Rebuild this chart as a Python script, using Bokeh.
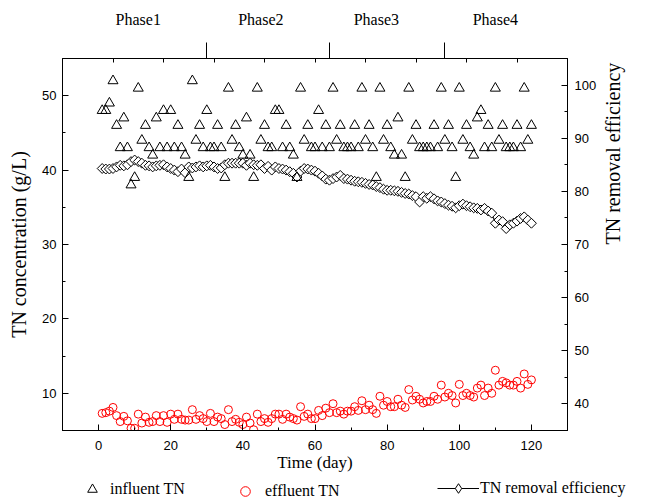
import math
from bokeh.plotting import figure
from bokeh.models import (Range1d, LinearAxis, SingleIntervalTicker, FixedTicker,
                          Legend, LegendItem)
from bokeh.embed import file_html
from bokeh.resources import INLINE

days = list(range(1, 121))

influent_tn = [48, 48, 49, 52, 46, 43, 47, 43, 38, 39,
               51, 44, 46, 43, 42, 47, 43, 48, 43, 48,
               43, 46, 43, 42, 39, 52, 44, 46, 43, 48,
               43, 43, 46, 43, 39, 51, 44, 46, 43, 42,
               47, 42, 39, 51, 44, 46, 43, 43, 48, 48,
               43, 46, 43, 42, 39, 51, 44, 46, 43, 43,
               48, 43, 46, 43, 51, 44, 46, 43, 43, 43,
               46, 43, 51, 44, 46, 43, 39, 51, 44, 46,
               43, 42, 47, 42, 39, 51, 44, 46, 43, 43,
               43, 43, 46, 43, 51, 44, 46, 43, 39, 51,
               44, 46, 43, 42, 47, 48, 43, 46, 43, 51,
               44, 46, 43, 43, 43, 46, 43, 51, 44, 46]

effluent_tn = [7.3, 7.4, 7.6, 8.1, 7.0, 6.2, 6.9, 6.3, 5.3, 5.3,
               7.2, 6.0, 6.8, 6.1, 6.2, 7.0, 6.2, 7.0, 6.1, 7.2,
               6.5, 7.2, 6.5, 6.4, 6.4, 7.8, 6.5, 7.0, 6.6, 6.2,
               7.3, 6.2, 6.8, 6.6, 5.8, 7.8, 6.2, 6.5, 6.1, 5.8,
               6.8, 6.0, 5.1, 7.2, 6.2, 6.6, 6.1, 6.6, 7.2, 7.2,
               6.5, 7.2, 6.8, 6.6, 6.4, 8.2, 6.9, 7.2, 6.6, 6.6,
               7.7, 7.0, 8.0, 7.4, 8.6, 7.4, 7.6, 7.2, 7.6, 7.6,
               8.2, 7.7, 9.0, 7.8, 8.4, 7.8, 7.3, 9.6, 8.4, 8.9,
               8.2, 8.2, 9.2, 8.4, 8.1, 10.5, 9.1, 9.6, 9.2, 8.7,
               8.9, 8.9, 9.6, 9.2, 11.1, 9.5, 10.0, 9.7, 8.7, 11.2,
               9.7, 10.0, 9.7, 9.5, 10.7, 11.1, 9.7, 10.7, 10.0, 13.1,
               11.1, 11.6, 11.4, 11.1, 11.1, 11.6, 10.7, 12.6, 11.2, 11.8]

removal_eff = [84.3, 84.2, 84.2, 84.3, 84.6, 84.9, 84.8, 85.0, 85.6, 85.9,
               85.6, 85.3, 84.9, 84.8, 84.6, 84.8, 84.9, 85.0, 84.6, 84.3,
               84.0, 83.7, 84.2, 83.5, 84.6, 84.4, 84.6, 84.8, 84.6, 84.8,
               84.9, 84.6, 84.3, 84.4, 85.0, 85.3, 85.3, 85.3, 85.3, 85.3,
               84.9, 85.3, 85.0, 84.9, 85.0, 84.3, 84.7, 84.0, 84.6, 84.3,
               84.2, 84.0, 83.7, 83.4, 82.7, 83.8, 84.3, 84.2, 84.0, 83.8,
               83.4, 82.9, 82.3, 82.1, 82.4, 82.7, 83.0, 82.4, 82.3, 82.1,
               81.9, 81.8, 81.7, 81.5, 81.3, 81.2, 80.9, 80.7, 80.4, 80.2,
               80.2, 80.1, 80.0, 79.8, 79.6, 79.5, 79.2, 79.0, 78.0, 79.0,
               78.7, 79.0, 78.6, 78.2, 78.0, 77.7, 77.4, 77.2, 76.9, 77.3,
               77.6, 77.3, 77.1, 76.9, 76.8, 76.5, 76.8, 76.3, 75.9, 74.0,
               74.6, 74.3, 73.0, 73.7, 74.0, 74.4, 74.9, 75.2, 74.6, 74.0]

phase_bounds = [30, 64, 96]
phase_label_days = [11, 45, 77, 110]
phase_labels = ["Phase1", "Phase2", "Phase3", "Phase4"]
top_minor_ticks = [4, 18, 32, 46, 60, 74, 88, 102, 116]

SERIF = "Liberation Serif"
SANS = "Liberation Sans"
W = 640

p = figure(width=W, height=478, output_backend="svg", toolbar_location=None,
           x_range=Range1d(-10, 130), y_range=Range1d(5, 55),
           min_border_left=62, min_border_right=73, min_border_top=58,
           min_border_bottom=48)
p.extra_y_ranges = {"eff": Range1d(35, 105)}
p.xgrid.visible = False
p.ygrid.visible = False
p.outline_line_color = "black"
p.outline_line_width = 1
p.background_fill_color = "white"
p.border_fill_color = "white"


def style_axis(ax):
    ax.axis_line_color = "black"
    ax.major_tick_line_color = "black"
    ax.minor_tick_line_color = "black"
    ax.major_tick_out = 0
    ax.minor_tick_out = 0
    ax.major_tick_in = 6
    ax.minor_tick_in = 3
    ax.major_label_text_font = SANS
    ax.major_label_text_font_size = "13px"
    ax.major_label_text_color = "black"
    ax.axis_label_text_font = SERIF
    ax.axis_label_text_font_style = "normal"
    ax.axis_label_text_color = "black"


# bottom axis
xa = p.xaxis[0]
xa.ticker = SingleIntervalTicker(interval=20, num_minor_ticks=2)
style_axis(xa)
xa.axis_label = "Time (day)"
xa.axis_label_text_font_size = "17px"
xa.major_label_standoff = 10
xa.axis_label_standoff = 0

# left axis
ya = p.yaxis[0]
ya.ticker = SingleIntervalTicker(interval=10, num_minor_ticks=2)
style_axis(ya)
ya.axis_label = "TN concentration (g/L)"
ya.axis_label_text_font_size = "20px"
ya.major_label_standoff = 6
ya.axis_label_standoff = 9

# right axis
ra = LinearAxis(y_range_name="eff",
                ticker=SingleIntervalTicker(interval=10, num_minor_ticks=2))
style_axis(ra)
ra.axis_label = "TN removal efficiency"
ra.axis_label_text_font_size = "20px"
ra.axis_label_orientation = math.pi / 2
ra.major_label_standoff = 7
ra.axis_label_standoff = 14
p.add_layout(ra, "right")

# top axis with phase separators
ta = LinearAxis(ticker=FixedTicker(ticks=phase_bounds, minor_ticks=top_minor_ticks))
ta.axis_line_color = "black"
ta.major_tick_line_color = "black"
ta.minor_tick_line_color = "black"
ta.major_tick_in = 0
ta.major_tick_out = 16
ta.minor_tick_in = 4
ta.minor_tick_out = 0
ta.major_label_text_font_size = "0px"
ta.major_label_standoff = 0
ta.major_label_overrides = {b: "" for b in phase_bounds}
p.add_layout(ta, "above")

# top labels for phases
tl = LinearAxis(ticker=FixedTicker(ticks=phase_label_days))
tl.axis_line_color = None
tl.major_tick_line_color = None
tl.minor_tick_line_color = None
tl.major_tick_in = 0
tl.major_tick_out = 0
tl.minor_tick_in = 0
tl.minor_tick_out = 0
tl.major_label_overrides = dict(zip(phase_label_days, phase_labels))
tl.major_label_text_font = SERIF
tl.major_label_text_font_size = "16px"
tl.major_label_text_color = "black"
tl.major_label_standoff = 15
p.add_layout(tl, "above")

# data
p.line(days, removal_eff, y_range_name="eff", line_color="black", line_width=1)
p.scatter(days, removal_eff, y_range_name="eff", marker="square",
          angle=math.pi / 4, size=7, line_color="black",
          fill_color="white", line_width=1)
p.scatter(days, influent_tn, marker="triangle", size=10,
          line_color="black", fill_color=None, line_width=1)
p.scatter(days, effluent_tn, marker="circle", size=8,
          line_color="red", fill_color=None, line_width=1)

# legend strip below the chart (separate root, frame spans full width);
# its data ranges exclude every data point, so only the legend shows
lg_fig = figure(width=W, height=22, output_backend="svg", toolbar_location=None,
                x_range=Range1d(1000, 1001), y_range=Range1d(1000, 1001),
                x_axis_location=None, y_axis_location=None,
                min_border_left=0, min_border_right=0, min_border_top=0,
                min_border_bottom=0)
lg_fig.xgrid.visible = False
lg_fig.ygrid.visible = False
lg_fig.outline_line_color = None
lg_fig.border_fill_color = "white"
lg_fig.background_fill_color = "white"

g_inf = lg_fig.scatter(days, influent_tn, marker="triangle", size=10,
                       line_color="black", fill_color=None, line_width=1)
g_out = lg_fig.scatter(days, effluent_tn, marker="circle", size=8,
                       line_color="red", fill_color=None, line_width=1)
g_line = lg_fig.line(days, removal_eff, line_color="black", line_width=1)
g_dia = lg_fig.scatter(days, removal_eff, marker="diamond", size=7,
                       line_color="black", fill_color="white", line_width=1)


def make_legend(items, loc, gw, standoff):
    lg = Legend(items=items, location=loc, orientation="horizontal",
                glyph_width=gw, glyph_height=24, label_height=24,
                label_standoff=standoff, padding=0, margin=0, spacing=0,
                border_line_color=None, background_fill_alpha=0,
                label_text_font=SERIF, label_text_font_size="16px",
                label_text_color="black")
    lg_fig.add_layout(lg, "center")


make_legend([LegendItem(label="influent TN", renderers=[g_inf])], (80, -1), 24, 6)
make_legend([LegendItem(label="effluent TN", renderers=[g_out])], (233, -3), 24, 8)
make_legend([LegendItem(label="TN removal efficiency", renderers=[g_line, g_dia])],
            (437, 0), 42, 1)

open("out.html", "w").write(file_html([p, lg_fig], INLINE))
